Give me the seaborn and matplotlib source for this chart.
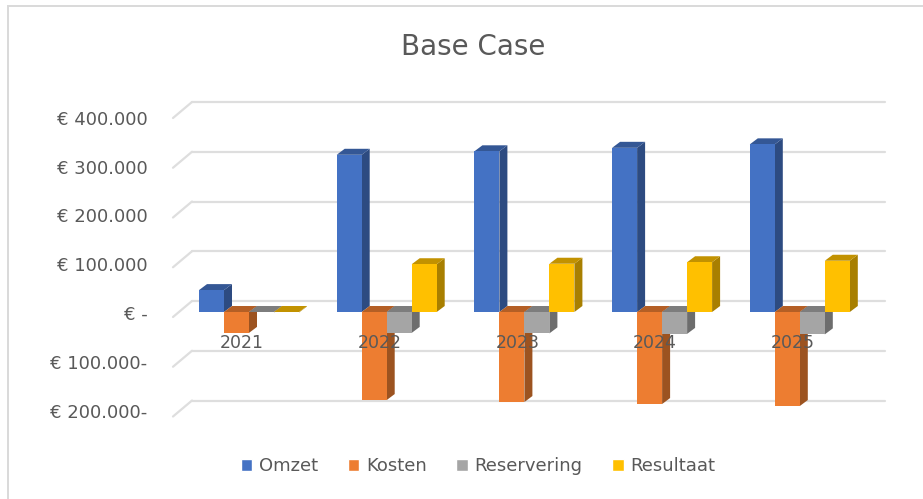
import pandas as pd
import seaborn as sns
import matplotlib.pyplot as plt
from matplotlib.patches import Polygon, Rectangle
from matplotlib.colors import to_rgb
from matplotlib.transforms import Affine2D

jaren = ["2021", "2022", "2023", "2024", "2025"]
omzet = [44000, 316000, 323000, 330000, 337000]
kosten = [-42000, -177000, -181000, -185000, -189000]
reservering = [-1000, -42000, -43000, -44000, -45000]
resultaat = [-1000, 96000, 97000, 100000, 103000]

reeksen = ["Omzet", "Kosten", "Reservering", "Resultaat"]
kleuren = ["#4472c4", "#ed7d31", "#a5a5a5", "#ffc000"]
ticks = [400000, 300000, 200000, 100000, 0, -100000, -200000]
tick_labels = ["€ 400.000", "€ 300.000", "€ 200.000", "€ 100.000", "€ -", "€ 100.000-", "€ 200.000-"]

df = pd.DataFrame({
    "jaar": jaren * 4,
    "reeks": [r for r in reeksen for _ in jaren],
    "waarde": omzet + kosten + reservering + resultaat,
})

sns.set_theme(style="white")
plt.rcParams["font.family"] = ["DejaVu Sans"]
TEKST = "#595959"
GRID = "#dedede"
W, H = 923, 499

fig = plt.figure(figsize=(W / 100, H / 100), dpi=100)
links, rechts, boven, onder = 173, 885, 100, 430
ax = fig.add_axes([links / W, 1 - onder / H, (rechts - links) / W, (onder - boven) / H])

# bars have their zero at pixel 312, 137.7 px between years, 49.75 px per 100k
px_jaar = 137.7
px_100k = 49.75
sns.barplot(data=df, x="jaar", y="waarde", hue="reeks", palette=kleuren, hue_order=reeksen,
            width=100 / px_jaar, gap=0, saturation=1, ax=ax, zorder=2)
ax.set_xlim((links - 249) / px_jaar, (rechts - 249) / px_jaar)
ax.set_ylim((312 - onder) / px_100k * 100000, (312 - boven) / px_100k * 100000)
ax.set_xlabel("")
ax.set_ylabel("")
ax.set_yticks([])
sns.despine(ax=ax, left=True, top=True, right=True, bottom=False)
ax.spines["bottom"].set_position(("data", 0))
ax.spines["bottom"].set_visible(False)
ax.tick_params(axis="x", length=0, pad=15.5, labelsize=12.5, labelcolor=TEKST)
ax.set_axisbelow(False)
verschuif = Affine2D().translate(-7, 0)
for label in ax.get_xticklabels():
    label.set_transform(label.get_transform() + verschuif)

# fake 3d depth on each bar
dx = 8 / px_jaar
dy = 6 / px_100k * 100000
for i, container in enumerate(ax.containers):
    basis = to_rgb(kleuren[i])
    zijkant = tuple(c * 0.66 for c in basis)
    bovenkant = tuple(c * 0.76 for c in basis)
    for bar in container:
        x0 = bar.get_x()
        x1 = x0 + bar.get_width()
        y0 = min(bar.get_y(), bar.get_y() + bar.get_height())
        y1 = max(bar.get_y(), bar.get_y() + bar.get_height())
        bar.set_zorder(2.2 + i * 0.01)
        bar.set_linewidth(0)
        ax.add_patch(Polygon([(x1, y0), (x1 + dx, y0 + dy), (x1 + dx, y1 + dy), (x1, y1)],
                             facecolor=zijkant, edgecolor="none", zorder=2 + i * 0.01))
        ax.add_patch(Polygon([(x0, y1), (x0 + dx, y1 + dy), (x1 + dx, y1 + dy), (x1, y1)],
                             facecolor=bovenkant, edgecolor="none", zorder=2.1 + i * 0.01))

# gridlines on the back wall, with the diagonal on the side wall
x_links, x_rechts = ax.get_xlim()
achter = ax.transData + Affine2D().translate(19, 11)
voor = ax.transData + Affine2D().translate(0, -5)
for t in ticks:
    ax.plot([x_links, x_rechts - 19 / px_jaar], [t, t], transform=achter, color=GRID,
            lw=1.6, zorder=0.5, clip_on=False)
    a = voor.transform((x_links, t))
    b = achter.transform((x_links, t))
    ax.plot([a[0], b[0]], [a[1], b[1]], transform=None, color=GRID, lw=1.6, zorder=0.5, clip_on=False)

# value labels follow their own spacing, 48.8 px per 100k from pixel 313
ax2 = ax.twinx()
ax2.set_ylim((313 - onder) / 48.8 * 100000, (313 - boven) / 48.8 * 100000)
ax2.yaxis.tick_left()
ax2.set_yticks(ticks, tick_labels)
ax2.tick_params(axis="y", length=0, pad=18.5, labelsize=13, labelcolor=TEKST)
ax2.grid(False)
for s in ax2.spines.values():
    s.set_visible(False)

handles, labels = ax.get_legend_handles_labels()
ax.get_legend().remove()
fig.legend(handles, labels, loc="center", bbox_to_anchor=(478 / W, 1 - 466 / H), ncol=4, frameon=False,
           fontsize=13, labelcolor=TEKST, handlelength=0.65, handleheight=0.65, handletextpad=0.35,
           columnspacing=1.65)

fig.text(473 / W, 1 - 47 / H, "Base Case", ha="center", va="center", fontsize=20, color=TEKST)
fig.add_artist(Rectangle((8 / W, -0.01), 1, 1 - 6 / H + 0.01, transform=fig.transFigure,
                         facecolor="none", edgecolor="#d9d9d9", lw=1.4))

fig.savefig("out.png", dpi=100)
